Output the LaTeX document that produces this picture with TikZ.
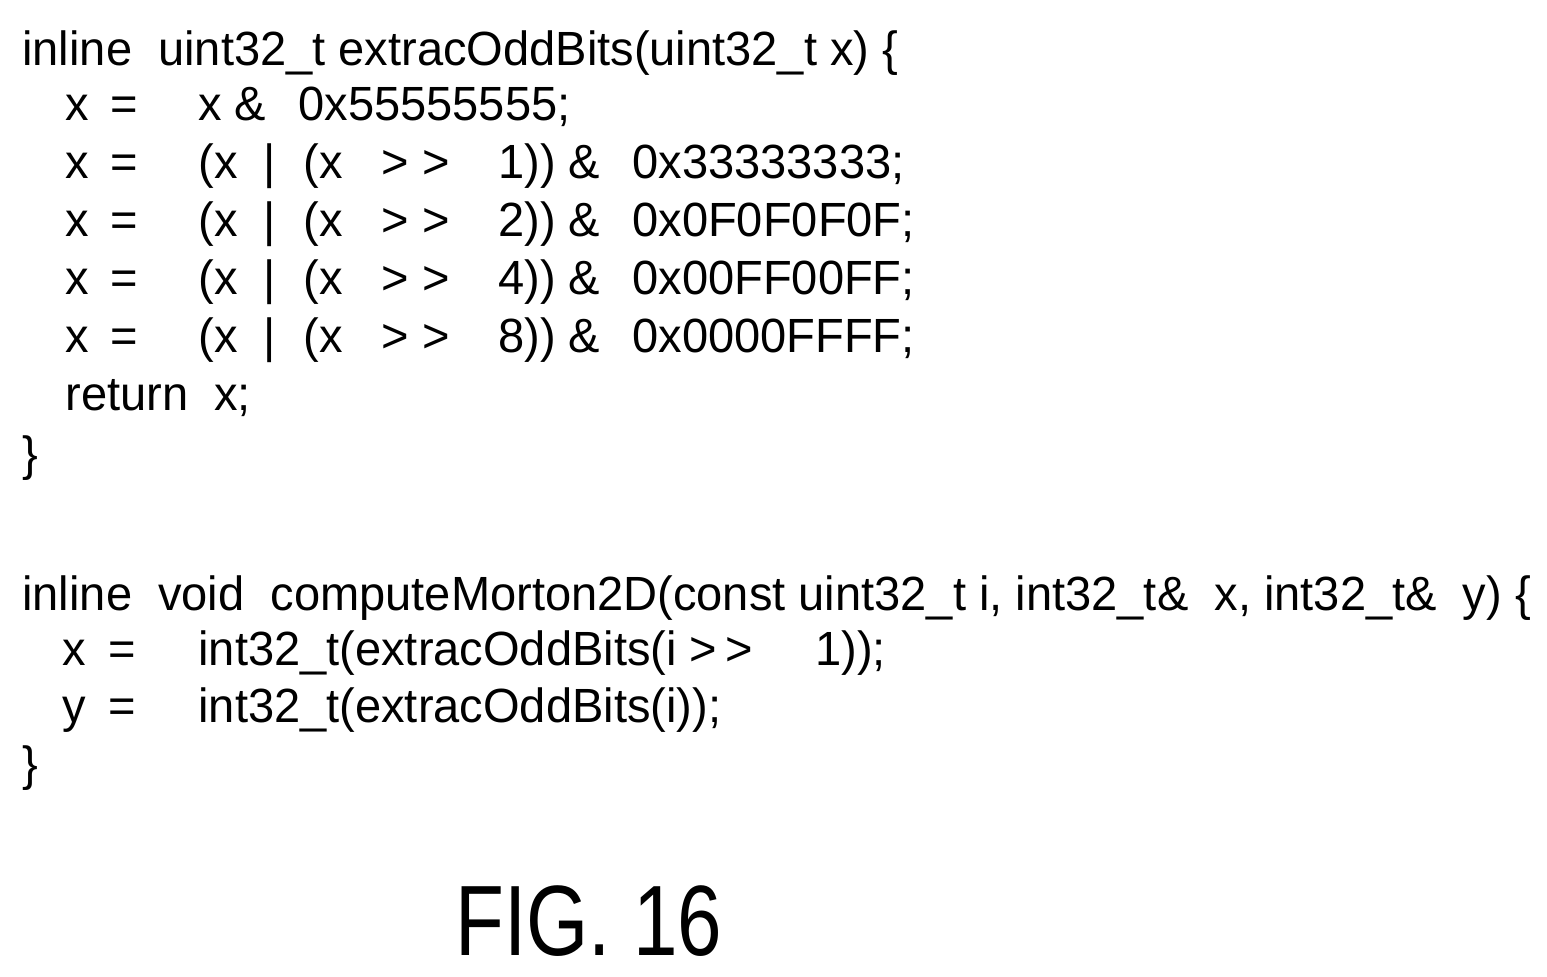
\documentclass[tikz,border=0pt]{standalone}
\usepackage{fontspec}
\setmainfont[FakeStretch=0.98]{Liberation Sans}
\newfontfamily\figfont[FakeStretch=0.8]{Liberation Sans}
\begin{document}
\begin{tikzpicture}[x=0.5pt,y=-0.5pt,
	code/.style={anchor=base west, inner sep=0pt, font=\fontsize{24}{28}\selectfont}]
	\useasboundingbox (0,0) rectangle (1547,976);

	\node[code] (f1) at (22,65) {inline\ \ uint32\_t extracOddBits(uint32\_t x) \{};
	\node[code] (a1x) at (65,120) {x};
	\node[code] (a1e) at (110,120) {=};
	\node[code] (a1r) at (198,120) {x \&};
	\node[code] (a1m) at (298,120) {0x55555555;};
	\foreach \sh/\mask [count=\i from 2] in {1/33333333,2/0F0F0F0F,4/00FF00FF,8/0000FFFF} {
		\node[code] (a\i x) at (65,62+\i*58) {x};
		\node[code] (a\i e) at (110,62+\i*58) {=};
		\node[code] (a\i l) at (198,62+\i*58) {(x\ \ |};
		\node[code] (a\i s) at (303,62+\i*58) {(x\ \ \ >\ >};
		\node[code] (a\i n) at (498,62+\i*58) {\sh)) \&};
		\node[code] (a\i m) at (632,62+\i*58) {0x\mask;};
	}
	\node[code] (r1) at (65,410) {return\ \ x;};
	\node[code] (e1) at (22,470) {\}};

	\node[code] (f2) at (22,610) {inline\ \ void\ \ computeMorton2D(const uint32\_t i, int32\_t\&\ \ x, int32\_t\&\ \ y) \{};
	\node[code] (b1x) at (62,665) {x};
	\node[code] (b1e) at (108,665) {=};
	\node[code] (b1r) at (198,665) {int32\_t(extracOddBits(i >\,>};
	\node[code] (b1n) at (815,665) {1));};
	\node[code] (b2x) at (62,722) {y};
	\node[code] (b2e) at (108,722) {=};
	\node[code] (b2r) at (198,722) {int32\_t(extracOddBits(i));};
	\node[code] (e2) at (22,780) {\}};

	\node[anchor=base west, inner sep=0pt, font=\figfont\fontsize{50}{56}\selectfont] (fig) at (455,955) {FIG. 16};
\end{tikzpicture}
\end{document}
